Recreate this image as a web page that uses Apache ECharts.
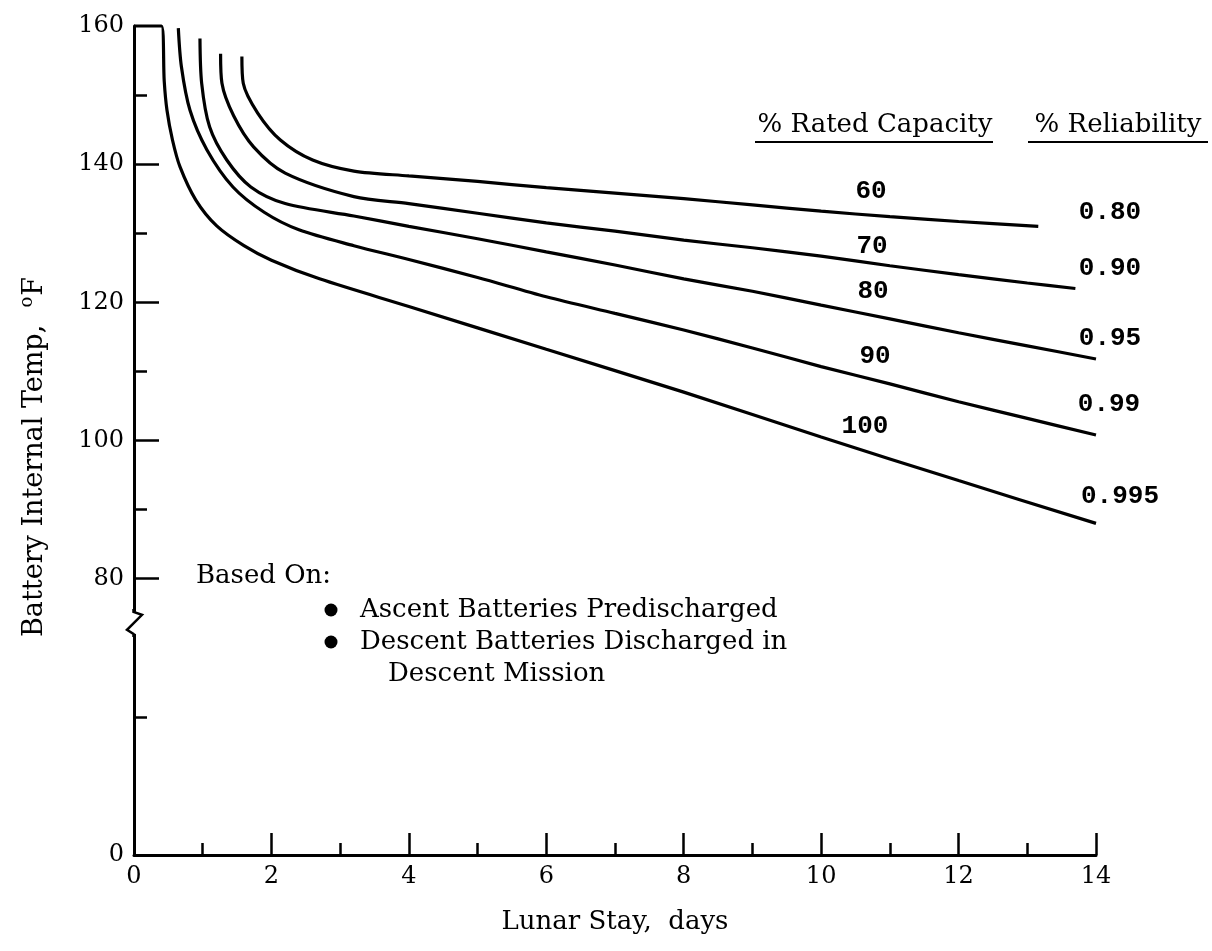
<!DOCTYPE html>
<html>
<head>
<meta charset="utf-8">
<script src="https://cdn.jsdelivr.net/npm/echarts@6/dist/echarts.min.js"></script>
<style>html,body{margin:0;padding:0;background:#fff;}#c{width:1212px;height:951px;}</style>
</head>
<body>
<div id="c"></div>
<script>
// Lunar stay (days) vs battery internal temperature (°F) for each % rated capacity
const cap60  = [[1.57,155.6],[1.59,151.7],[1.8,147.4],[2.13,143.5],[2.6,140.6],[3.2,139.0],[4,138.3],[5,137.5],[6,136.6],[7,135.8],[8,135.0],[9,134.1],[10,133.2],[11,132.4],[12,131.7],[13.16,131.0]];
const cap70  = [[1.26,156],[1.28,151.7],[1.45,147],[1.74,142.5],[2.2,138.7],[3.2,135.3],[4,134.3],[5,132.9],[6,131.5],[7,130.3],[8,129.0],[9,127.9],[10,126.7],[11,125.3],[12,124.0],[13,122.8],[13.7,122.0]];
const cap80  = [[0.96,158.2],[0.985,151.7],[1.1,145.4],[1.35,140.6],[1.7,136.7],[2.2,134.3],[3.2,132.5],[4,131.0],[5,129.2],[6,127.3],[7,125.4],[8,123.4],[9,121.6],[10,119.6],[11,117.6],[12,115.6],[13,113.7],[14,111.8]];
const cap90  = [[0.645,159.7],[0.69,154.1],[0.815,147.8],[1.06,142.1],[1.44,136.7],[1.9,133],[2.4,130.5],[3.2,128.2],[4,126.2],[5,123.6],[6,120.8],[7,118.4],[8,116.0],[9,113.4],[10,110.7],[11,108.2],[12,105.6],[13,103.2],[14,100.8]];
const cap100 = [[0,160],[0.4,160],[0.44,152],[0.48,147.8],[0.56,143.5],[0.67,139.6],[0.9,134.8],[1.2,131.1],[1.6,128.2],[2,126.1],[2.7,123.4],[4,119.4],[6,113.2],[8,107],[10,100.5],[12,94.2],[14,88]];

const capLabels = ['60','70','80','90','100'];
const relLabels = ['0.80','0.90','0.95','0.99','0.995'];
const yLabelValues = [40,80,100,120,140,160];
const yMajorTicks = [80,100,120,140];
const yMinorTicks = [60,90,110,130,150];
const headers = ['% Rated Capacity','% Reliability'];
const notes = ['Based On:','Ascent Batteries Predischarged','Descent Batteries Discharged in','Descent Mission'];
const xTitle = 'Lunar Stay,  days';
const yTitle = 'Battery Internal Temp,  ';

const SERIF = '"DejaVu Serif", "Liberation Serif", serif';
const MONO = '"Liberation Mono", "DejaVu Sans Mono", monospace';
const chart = echarts.init(document.getElementById('c'));

const seriesData = [cap60, cap70, cap80, cap90, cap100];
const series = seriesData.map((d, i) => ({
  type: 'line', name: capLabels[i], data: d, xAxisIndex: 0, yAxisIndex: 0,
  showSymbol: false, smooth: 0.3, clip: false,
  lineStyle: { color: '#000', width: 3.2 }, itemStyle: { color: '#000' },
  silent: true, z: 5
}));

function txt(text, x, y, font, align) {
  return { type: 'text', x: x, y: y, z: 20,
    style: { text: text, font: font, fill: '#000', align: align || 'center', verticalAlign: 'middle' } };
}

const capPos = [[871,191],[872,246],[873,291],[875,356],[865,426]];
const relPos = [[1110,212],[1110,268],[1110,338],[1109,404],[1120,496]];
const graphics = [];
capLabels.forEach((t, i) => graphics.push(txt(t, capPos[i][0], capPos[i][1], 'bold 26px ' + MONO)));
relLabels.forEach((t, i) => graphics.push(txt(t, relPos[i][0], relPos[i][1], 'bold 26px ' + MONO)));
graphics.push(txt(headers[0], 875, 125, '26px ' + SERIF));
graphics.push(txt(headers[1], 1118, 125, '26px ' + SERIF));
graphics.push({ type: 'line', z: 20, shape: { x1: 755, y1: 142, x2: 993, y2: 142 }, style: { stroke: '#000', lineWidth: 2 } });
graphics.push({ type: 'line', z: 20, shape: { x1: 1028, y1: 142, x2: 1208, y2: 142 }, style: { stroke: '#000', lineWidth: 2 } });
graphics.push(txt(notes[0], 196, 576, '26px ' + SERIF, 'left'));
graphics.push(txt(notes[1], 360, 610, '26px ' + SERIF, 'left'));
graphics.push(txt(notes[2], 360, 642, '26px ' + SERIF, 'left'));
graphics.push(txt(notes[3], 388, 674, '26px ' + SERIF, 'left'));
graphics.push({ type: 'circle', z: 20, shape: { cx: 331, cy: 610, r: 6.5 }, style: { fill: '#000' } });
graphics.push({ type: 'circle', z: 20, shape: { cx: 331, cy: 642, r: 6.5 }, style: { fill: '#000' } });
// rotated y-axis title with superscript degree sign
graphics.push({ type: 'text', x: 35, y: 457, rotation: Math.PI / 2, z: 20,
  style: { text: '{a|' + yTitle + '}{o|o}{a|F}', fill: '#000', align: 'center', verticalAlign: 'middle',
    rich: { a: { font: '27px ' + SERIF, fill: '#000' },
            o: { font: '18px ' + SERIF, fill: '#000', padding: [0, 1, 16, 0] } } } });

const option = {
  backgroundColor: '#fff',
  animation: false,
  grid: { left: 134, right: 116, top: 26, bottom: 96, outerBoundsMode: 'none', containLabel: false },
  xAxis: [
    { type: 'value', min: 0, max: 14, interval: 2,
      name: xTitle, nameLocation: 'middle', nameGap: 54,
      nameTextStyle: { fontFamily: SERIF, fontSize: 26, color: '#000' },
      axisLine: { show: true, lineStyle: { color: '#000', width: 3 } },
      axisTick: { show: true, inside: true, length: 22, lineStyle: { color: '#000', width: 2.5 } },
      axisLabel: { fontFamily: SERIF, fontSize: 24, color: '#000', margin: 10 },
      splitLine: { show: false } },
    { type: 'value', min: 0, max: 14, interval: 1, position: 'bottom',
      axisLine: { show: false },
      axisTick: { show: true, inside: true, length: 12, lineStyle: { color: '#000', width: 2.5 } },
      axisLabel: { show: false }, splitLine: { show: false } }
  ],
  yAxis: [
    { type: 'value', min: 40, max: 160, interval: 10,
      axisLine: { show: true, lineStyle: { color: '#000', width: 3 } },
      axisTick: { show: true, inside: true, length: 25, customValues: yMajorTicks, lineStyle: { color: '#000', width: 2.5 } },
      axisLabel: { fontFamily: SERIF, fontSize: 24, color: '#000', margin: 10, customValues: yLabelValues,
        formatter: v => (v === 40 ? '0' : String(v)) },
      splitLine: { show: false } },
    { type: 'value', min: 40, max: 160, interval: 10, position: 'left',
      axisLine: { show: false },
      axisTick: { show: true, inside: true, length: 13, customValues: yMinorTicks, lineStyle: { color: '#000', width: 2.5 } },
      axisLabel: { show: false }, splitLine: { show: false } }
  ],
  series: series,
  graphic: graphics
};
chart.setOption(option);

// axis break mark on the y axis (between 70 and 80)
const bp = chart.convertToPixel({ xAxisIndex: 0, yAxisIndex: 0 }, [0, 73.6]);
const bx = bp[0], by = bp[1];
graphics.push({ type: 'rect', z: 30, shape: { x: bx - 4, y: by - 11, width: 8, height: 22 }, style: { fill: '#fff' } });
graphics.push({ type: 'polyline', z: 31, shape: { points: [[bx - 0.5, by - 14], [bx - 0.5, by - 11], [bx + 8, by - 8], [bx - 7, by + 7], [bx - 0.5, by + 11], [bx - 0.5, by + 14]] },
  style: { stroke: '#000', lineWidth: 2.5, fill: null } });
chart.setOption({ graphic: graphics });
</script>
</body>
</html>
